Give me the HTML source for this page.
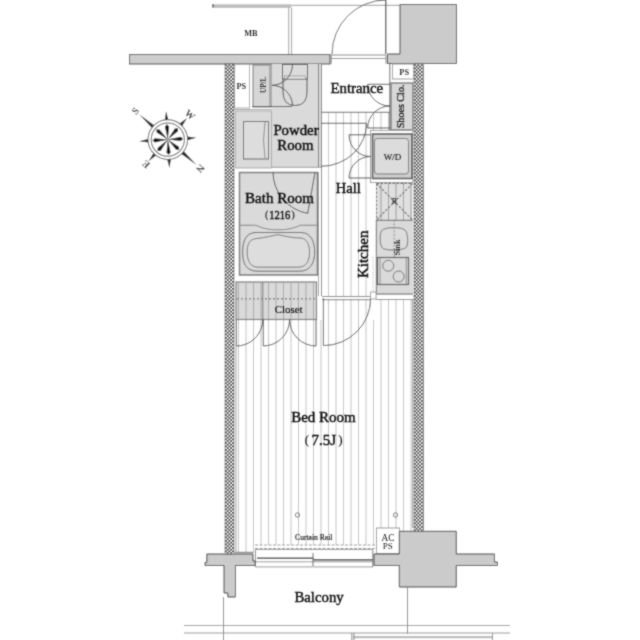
<!DOCTYPE html><html><head><meta charset="utf-8"><style>html,body{margin:0;padding:0;background:#fff}svg{display:block}</style></head><body>
<svg width="640" height="640" viewBox="0 0 640 640">
<defs>
<pattern id="h" width="3.5" height="3.5" patternUnits="userSpaceOnUse" x="225" y="64">
<rect width="3.5" height="3.5" fill="#eeeeee"/><rect width="1.75" height="1.75" fill="#444"/><rect x="1.75" y="1.75" width="1.75" height="1.75" fill="#444"/>
</pattern>
<filter id="soft" x="0" y="0" width="640" height="640" filterUnits="userSpaceOnUse"><feConvolveMatrix order="3" kernelMatrix="1 2 1 2 10 2 1 2 1" divisor="22" edgeMode="duplicate"/></filter>
<filter id="soft2" x="0" y="0" width="640" height="640" filterUnits="userSpaceOnUse"><feConvolveMatrix order="3" kernelMatrix="1 2 1 2 12 2 1 2 1" divisor="24" edgeMode="none" preserveAlpha="false"/></filter>
</defs>
<g filter="url(#soft)">
<rect width="640" height="640" fill="#fff"/>
<path d="M238.50 320V545M246.00 320V545M253.50 320V545M261.00 320V545M268.50 320V545M276.00 320V545M283.50 320V545M291.00 320V545M298.50 320V545M306.00 320V545M313.50 320V545M321.00 320V545M328.50 320V545M336.00 320V545M343.50 320V545M351.00 320V545M358.50 320V545M366.00 320V545M373.50 320V545M381.00 320V545M388.50 320V545M396.00 320V545M403.50 320V545M411.00 320V545" stroke="#c2c2c2" stroke-width="1" fill="none"/>
<path d="M238.50 545V552M246.00 545V552M253.50 545V552" stroke="#c2c2c2" stroke-width="1" fill="none"/>
<path d="M328.50 112V296M336.00 112V296M343.50 112V296M351.00 112V296M358.50 112V296M366.00 112V296" stroke="#c2c2c2" stroke-width="1" fill="none"/>
<path d="M373.50 112V130M381.00 112V130M388.50 112V130" stroke="#c2c2c2" stroke-width="1" fill="none"/>
<path d="M328.50 299V320M336.00 299V320M343.50 299V320M351.00 299V320M358.50 299V320M366.00 299V320" stroke="#c2c2c2" stroke-width="1" fill="none"/>
<path d="M381.00 299V320M388.50 299V320M396.00 299V320M403.50 299V320M411.00 299V320" stroke="#c2c2c2" stroke-width="1" fill="none"/>
<path d="M381.00 183V220M388.50 183V220M396.00 183V220M403.50 183V220M411.00 183V220" stroke="#a8a8a8" stroke-width="1" fill="none"/>
<rect x="212" y="4.3" width="79" height="3.6" fill="#bdbdbd"/>
<path d="M291 5.3H400" stroke="#aaa" stroke-width="1.2"/>
<rect x="212" y="4" width="2" height="3.5" fill="#777"/>
<path d="M288.7 7.5V54M291.6 7.5V54" stroke="#999" stroke-width="1" fill="none"/>

<rect x="129.5" y="54.5" width="200.5" height="9.5" fill="#cdcdcd" stroke="#4a4a4a" stroke-width="1"/>
<path d="M331 55H386M331 58.5H386M331.2 55V64M386 55V64" stroke="#888" stroke-width="1" fill="none"/>
<path d="M385.7 0V54" stroke="#555" stroke-width="1.4" fill="none"/>
<path d="M332 54A54 54 0 0 1 386 0" stroke="#666" stroke-width="1" fill="none"/>
<path d="M400 4.5H456.5V63.5H387.5V54H400Z" fill="#cbcbcb" stroke="#444" stroke-width="1"/>
<rect x="234.5" y="64.5" width="15" height="43.5" fill="#fff" stroke="#aaa" stroke-width="1"/>

<rect x="253" y="65" width="19" height="42" fill="#d6d6d6" stroke="#777" stroke-width="1"/>
<rect x="269" y="65" width="3" height="42" fill="#aaa"/>

<rect x="272" y="64" width="49.5" height="103" fill="#dadada"/>
<path d="M272 167.3H322" stroke="#999" stroke-width="1"/>
<path d="M318.5 64V167M321.5 64V296" stroke="#777" stroke-width="1" fill="none"/>
<rect x="235.5" y="111" width="36" height="57" fill="#dadada" stroke="#999" stroke-width="0.8"/>
<rect x="243.5" y="121.5" width="25" height="37.5" fill="#dddddd" stroke="#666" stroke-width="1"/>
<path d="M265 122Q262 140 265 158" stroke="#777" stroke-width="0.8" fill="none"/>
<path d="M234.5 109.5H272" stroke="#aaa" stroke-width="1"/>
<path d="M252 106.5H292" stroke="#555" stroke-width="1"/>
<rect x="282.5" y="64.5" width="25" height="14.5" fill="#dcdcdc" stroke="#555" stroke-width="1"/>
<rect x="284.5" y="76" width="21" height="3" fill="#e6e6e6" stroke="#777" stroke-width="0.6"/>
<path d="M283 79V92Q283 105.5 295 105.5Q307 105.5 307 92V79" fill="none" stroke="#555" stroke-width="1"/>
<path d="M272 85.3A20.5 21 0 0 0 292.5 64.3M272 85.3A20.5 20.5 0 0 1 292.5 105.8" fill="none" stroke="#444" stroke-width="0.9"/>


<path d="M321.5 112.3H390M389.8 64V130" stroke="#666" stroke-width="1" fill="none"/>

<rect x="392.5" y="64" width="21.5" height="15" fill="#fff" stroke="#999" stroke-width="1"/>

<rect x="391" y="83" width="22" height="47" fill="#d8d8d8" stroke="#777" stroke-width="1.4"/>

<path d="M367.7 84.3H390M367.7 84.3A22.3 21.7 0 0 0 390 106M390 106A22.3 22 0 0 0 367.7 128H390" stroke="#444" stroke-width="0.9" fill="none"/>
<path d="M321 123.3H366.5M366.5 123.3A45.5 43 0 0 1 321 166.3" stroke="#444" stroke-width="0.9" fill="none"/>

<rect x="370.5" y="130.5" width="42.5" height="52" fill="#fff" stroke="#999" stroke-width="1"/>
<rect x="372.5" y="134" width="39.5" height="44.5" fill="#cfcfcf" stroke="#555" stroke-width="1.6"/>
<rect x="374.5" y="138.5" width="34" height="35.5" rx="3" fill="#dcdcdc" stroke="#777" stroke-width="1"/>

<path d="M349 134.8H370.5M349 134.8A21.5 21.7 0 0 0 370.5 156.5M370.5 156.5A21.5 21.5 0 0 0 349 178H370.5" stroke="#444" stroke-width="0.9" fill="none"/>
<rect x="376" y="183" width="36.5" height="37" fill="#dadada" fill-opacity="0.85"/>
<path d="M381.00 183V220M388.50 183V220M396.00 183V220M403.50 183V220M411.00 183V220" stroke="#a0a0a0" stroke-width="1" fill="none"/>
<path d="M376.5 183.5H412.5M376.5 183.5V220M376.5 183.5L412.5 220M412.5 183.5L376.5 220" stroke="#666" stroke-width="1.1" stroke-dasharray="2.5 1.5" fill="none"/>

<rect x="376" y="220" width="37" height="74.5" fill="#dadada"/>
<path d="M376 220.3H413M376 294H413M376.3 220V294" stroke="#666" stroke-width="1" fill="none"/>
<path d="M386 228.5C392 227 402 227.5 405 230C408 233 408.5 243 406.5 247C404 250.5 388 251 383 248.5C379.5 246 379.5 234 381.5 231C382.5 229.5 384 229 386 228.5Z" fill="#dcdcdc" stroke="#666" stroke-width="0.9"/>
<path d="M394.2 220V258" stroke="#777" stroke-width="0.8" stroke-dasharray="2 1.5"/>

<rect x="377.5" y="257.5" width="31" height="27" fill="#dadada" stroke="#555" stroke-width="1.2"/>
<path d="M380 257.5V284.5M406.3 257.5V284.5" stroke="#777" stroke-width="0.8"/>
<circle cx="388.3" cy="265.8" r="5.5" fill="none" stroke="#666" stroke-width="0.9"/>
<circle cx="398.7" cy="276.5" r="5.5" fill="none" stroke="#666" stroke-width="0.9"/>
<path d="M373 257V292" stroke="#888" stroke-width="0.8" stroke-dasharray="1 1.5"/>

<rect x="239.5" y="172.5" width="78" height="102.5" fill="#dadada" stroke="#777" stroke-width="1.5"/>
<path d="M240.5 225.25H256C264 229 270 229.8 278 229.8C286 229.8 292 229 300.3 225.25H316.5" fill="none" stroke="#777" stroke-width="0.9"/>
<path d="M256 232.5H301C311 232.5 314.7 242 314.7 252C314.7 263 310 271.2 300 271.2H257C246 271.2 242.6 263 242.6 252C242.6 241 246 232.5 256 232.5Z" fill="#dadada" stroke="#666" stroke-width="1"/>
<path d="M257 238.5C265 237.5 272 236 278 234.6C284 236 292 238 300 238C307 238 309.5 245 309.5 252C309.5 260 307 267.2 298 267.2H258C250 267.2 247.2 260 247.2 252C247.2 244 249.5 239 257 238.5Z" fill="#dddddd" stroke="#777" stroke-width="1"/>
<path d="M273 172A42 42 0 0 0 307.7 213.4L315 172.5" fill="none" stroke="#444" stroke-width="0.9"/>



<path d="M318.5 172V296" stroke="#999" stroke-width="1"/>
<rect x="236" y="282" width="80.5" height="37.5" fill="#dadada" stroke="#777" stroke-width="1.2"/>
<path d="M238.50 282V319M246.00 282V319M253.50 282V319M261.00 282V319M268.50 282V319M276.00 282V319M283.50 282V319M291.00 282V319M298.50 282V319M306.00 282V319M313.50 282V319" stroke="#a8a8a8" stroke-width="1" fill="none"/>
<path d="M262.8 282V319.5" stroke="#777" stroke-width="1"/>
<path d="M237 298.7H316" stroke="#888" stroke-width="1.5" stroke-dasharray="2 2"/>

<path d="M236.5 319.5V346A26.5 26.5 0 0 0 262.8 319.5M263.3 319.5V346A26.5 26.5 0 0 0 289.6 319.5M316 319.5V346A26.5 26.5 0 0 1 289.6 319.5" fill="none" stroke="#444" stroke-width="0.9"/>
<path d="M322 296.5H371M322 299.7H371" stroke="#777" stroke-width="1"/>
<path d="M323.4 298V345.6A47.3 47.3 0 0 0 370.7 298" fill="none" stroke="#444" stroke-width="0.9"/>
<rect x="370.6" y="292" width="5.5" height="7" fill="#fff" stroke="#888" stroke-width="0.8"/>
<path d="M376 299.5H413M412.8 299V528" stroke="#888" stroke-width="1"/>
<path d="M236 319.5V552.3" stroke="#999" stroke-width="1"/>




<circle cx="297.5" cy="515" r="2.2" fill="none" stroke="#666" stroke-width="0.9"/>
<circle cx="395.5" cy="515" r="2.2" fill="none" stroke="#666" stroke-width="0.9"/>

<path d="M255 545H376M255 548.5H376" stroke="#999" stroke-width="1" stroke-dasharray="3 1.5"/>
<path d="M234.5 552.3H254" stroke="#777" stroke-width="1"/>
<path d="M255.5 549.5H373M255.5 561.8H373M255.5 566.9H373" stroke="#999" stroke-width="1" fill="none"/>
<path d="M257 558.3H313.5" stroke="#444" stroke-width="1.6" fill="none"/>
<path d="M313 559.8H373" stroke="#444" stroke-width="1.6" fill="none"/>
<path d="M313 553V566" stroke="#666" stroke-width="1" fill="none"/>
<path d="M255.5 549.5V567M372.8 549.5V567" stroke="#777" stroke-width="1" fill="none"/>
<rect x="376.5" y="528" width="23" height="25.5" fill="#fff" stroke="#999" stroke-width="1"/>


<path d="M206.8 554H253V561H255.2V565.5H235.5V597H227.8V593H224V565.5H205V562.4H206.8Z" fill="#cbcbcb" stroke="#444" stroke-width="1"/>
<path d="M399.3 531.3H456.3V554H494.5V562H497.5V565.5H456.3V587H399.3V565.5H374V554H399.3Z" fill="#cbcbcb" stroke="#444" stroke-width="1"/>
<path d="M223.5 597V640M407.5 587V634" stroke="#777" stroke-width="1"/>
<path d="M184 625.5H510M184 633H510" stroke="#999" stroke-width="1"/>
<path d="M353 637.2H492" stroke="#bbb" stroke-width="2.2" fill="none"/>
<path d="M351.8 633V640M354 633V640M492.5 633V640" stroke="#888" stroke-width="1" fill="none"/>

<g transform="translate(167.8 139.6) rotate(-3.5)"><circle r="19.8" fill="#fff" stroke="#666" stroke-width="1"/><circle r="16.6" fill="none" stroke="#666" stroke-width="1"/><path d="M0 0L-2.1 -13L0 -15.3L2.1 -13Z" fill="#111" transform="rotate(0)"/><path d="M0 0L-2.1 -13L0 -15.3L2.1 -13Z" fill="#111" transform="rotate(45)"/><path d="M0 0L-2.1 -13L0 -15.3L2.1 -13Z" fill="#111" transform="rotate(90)"/><path d="M0 0L-2.1 -13L0 -15.3L2.1 -13Z" fill="#111" transform="rotate(135)"/><path d="M0 0L-2.1 -13L0 -15.3L2.1 -13Z" fill="#111" transform="rotate(180)"/><path d="M0 0L-2.1 -13L0 -15.3L2.1 -13Z" fill="#111" transform="rotate(225)"/><path d="M0 0L-2.1 -13L0 -15.3L2.1 -13Z" fill="#111" transform="rotate(270)"/><path d="M0 0L-2.1 -13L0 -15.3L2.1 -13Z" fill="#111" transform="rotate(315)"/><path d="M-1.8 -19.8L0 -28.5L1.8 -19.8Z" fill="#222" transform="rotate(0)"/><path d="M-1.8 -19.8L0 -28.5L1.8 -19.8Z" fill="#222" transform="rotate(90)"/><path d="M-1.8 -19.8L0 -28.5L1.8 -19.8Z" fill="#222" transform="rotate(180)"/><path d="M-1.8 -19.8L0 -28.5L1.8 -19.8Z" fill="#222" transform="rotate(270)"/><path d="M-1.8 -19.8L0 -38L1.8 -19.8Z" fill="#222" transform="rotate(-45)"/><path d="M-1.8 -19.8L0 -29L1.8 -19.8Z" fill="#222" transform="rotate(45)"/><path d="M-1.8 -19.8L0 -38L1.8 -19.8Z" fill="#222" transform="rotate(135)"/><path d="M-1.8 -19.8L0 -29L1.8 -19.8Z" fill="#222" transform="rotate(225)"/><g transform="rotate(-45) translate(0 -43.5)"><text y="3.5" text-anchor="middle" style="font-family:'Liberation Serif',serif;font-size:10px;font-weight:bold" fill="#333">S</text></g><g transform="rotate(135) translate(0 -43.5)"><text y="3.5" text-anchor="middle" style="font-family:'Liberation Serif',serif;font-size:10px;font-weight:bold" fill="#333">N</text></g><g transform="rotate(45) translate(0 -33.5)"><text y="3.5" text-anchor="middle" style="font-family:'Liberation Serif',serif;font-size:10px;font-weight:bold" fill="#333">W</text></g><g transform="rotate(-135) translate(0 -33)"><text y="3.5" text-anchor="middle" style="font-family:'Liberation Serif',serif;font-size:10px;font-weight:bold" fill="#333">E</text></g></g>
</g>
<g filter="url(#soft2)"><rect x="225" y="64" width="9" height="490" fill="url(#h)" stroke="#666" stroke-width="0.6"/><rect x="414" y="64" width="9.5" height="467" fill="url(#h)" stroke="#666" stroke-width="0.6"/></g>
<g filter="url(#soft2)"><text x="250.9" y="35.5" text-anchor="middle" style="font-family:'Liberation Serif',serif;font-size:8.3px;font-weight:bold;" fill="#333">MB</text><text x="241.25" y="88.6" text-anchor="middle" style="font-family:'Liberation Serif',serif;font-size:8.3px;font-weight:bold;" fill="#333">PS</text><text transform="translate(266.1 84.8) rotate(-90)" text-anchor="middle" style="font-family:'Liberation Serif',serif;font-size:7.2px;font-weight:bold;" fill="#333">UP/L</text><text x="296" y="134.7" text-anchor="middle" style="font-family:'Liberation Serif',serif;font-size:14.8px;" fill="#111" stroke="#111" stroke-width="0.45">Powder</text><text x="295.4" y="149.7" text-anchor="middle" style="font-family:'Liberation Serif',serif;font-size:14.8px;" fill="#111" stroke="#111" stroke-width="0.45">Room</text><text x="356.75" y="93.2" text-anchor="middle" style="font-family:'Liberation Serif',serif;font-size:14.8px;" fill="#111" stroke="#111" stroke-width="0.45">Entrance</text><text x="404.2" y="75.2" text-anchor="middle" style="font-family:'Liberation Serif',serif;font-size:8.3px;font-weight:bold;" fill="#333">PS</text><text transform="translate(403.9 106.4) rotate(-90)" text-anchor="middle" style="font-family:'Liberation Serif',serif;font-size:10.1px;" fill="#111" stroke="#111" stroke-width="0.25">Shoes Clo.</text><text x="348.3" y="193.4" text-anchor="middle" style="font-family:'Liberation Serif',serif;font-size:14.5px;" fill="#111" stroke="#111" stroke-width="0.45">Hall</text><text x="392.4" y="160.2" text-anchor="middle" style="font-family:'Liberation Serif',serif;font-size:9px;" fill="#222" stroke="#222" stroke-width="0.15">W/D</text><text x="394.4" y="204.3" text-anchor="middle" style="font-family:'Liberation Serif',serif;font-size:8px;" fill="#222" stroke="#222" stroke-width="0.15">R</text><text transform="translate(399.5 247.5) rotate(-90)" text-anchor="middle" style="font-family:'Liberation Serif',serif;font-size:8.3px;font-weight:bold;" fill="#333">Sink</text><text transform="translate(368.0 254.35) rotate(-90)" text-anchor="middle" style="font-family:'Liberation Serif',serif;font-size:15px;" fill="#111" stroke="#111" stroke-width="0.45">Kitchen</text><text x="279.5" y="202.9" text-anchor="middle" style="font-family:'Liberation Serif',serif;font-size:15px;" fill="#111" stroke="#111" stroke-width="0.45">Bath Room</text><text x="269.2" y="218.8" textLength="21" lengthAdjust="spacingAndGlyphs" style="font-family:'Liberation Serif',serif;font-size:12px" fill="#111" stroke="#111" stroke-width="0.4">1216</text><text x="266.8" y="218" text-anchor="middle" style="font-family:'Liberation Serif',serif;font-size:10.5px;" fill="#111" stroke="#111" stroke-width="0.1">(</text><text x="293" y="218" text-anchor="middle" style="font-family:'Liberation Serif',serif;font-size:10.5px;" fill="#111" stroke="#111" stroke-width="0.1">)</text><text x="288.6" y="312.9" text-anchor="middle" style="font-family:'Liberation Serif',serif;font-size:10.9px;" fill="#111" stroke="#111" stroke-width="0.15">Closet</text><text x="323.5" y="422" text-anchor="middle" style="font-family:'Liberation Serif',serif;font-size:15px;" fill="#111" stroke="#111" stroke-width="0.45">Bed Room</text><text x="323.9" y="444.7" text-anchor="middle" style="font-family:'Liberation Serif',serif;font-size:15px;" fill="#111" stroke="#111" stroke-width="0.45">7.5J</text><text x="307" y="443.5" text-anchor="middle" style="font-family:'Liberation Serif',serif;font-size:13px;" fill="#111" stroke="#111" stroke-width="0.1">(</text><text x="340.5" y="443.5" text-anchor="middle" style="font-family:'Liberation Serif',serif;font-size:13px;" fill="#111" stroke="#111" stroke-width="0.1">)</text><text x="313.75" y="539.5" text-anchor="middle" style="font-family:'Liberation Serif',serif;font-size:7.6px;" fill="#111" stroke="#111" stroke-width="0.15">Curtain Rail</text><text x="388.1" y="540.6" text-anchor="middle" style="font-family:'Liberation Serif',serif;font-size:9.4px;" fill="#222">AC</text><text x="387.8" y="549.4" text-anchor="middle" style="font-family:'Liberation Serif',serif;font-size:9px;" fill="#222">PS</text><text x="319.1" y="602" text-anchor="middle" style="font-family:'Liberation Serif',serif;font-size:14.8px;" fill="#111" stroke="#111" stroke-width="0.45">Balcony</text></g>
</svg></body></html>
